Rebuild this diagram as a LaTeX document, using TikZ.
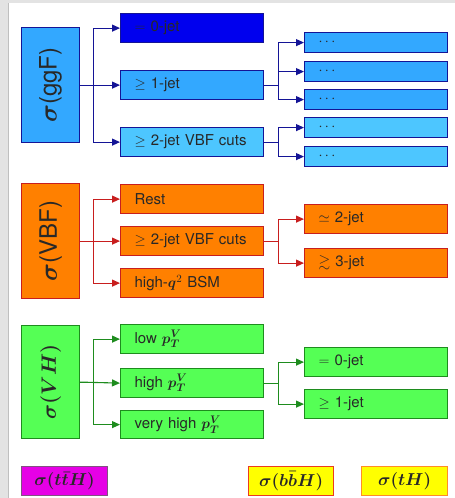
\documentclass[tikz,border=0pt]{standalone}
\usepackage{amsmath,amssymb}
\usepackage[no-math]{fontspec}
\setmainfont{TeX Gyre Heros}
\usetikzlibrary{arrows.meta}
\definecolor{ggf}{RGB}{51,168,255}
\definecolor{blueA}{RGB}{0,0,238}
\definecolor{vbfc}{RGB}{77,198,255}
\definecolor{navy}{RGB}{20,20,150}
\definecolor{orng}{RGB}{255,128,0}
\definecolor{redB}{RGB}{200,30,30}
\definecolor{grn}{RGB}{85,255,85}
\definecolor{grnB}{RGB}{30,140,30}
\definecolor{mag}{RGB}{230,0,230}
\definecolor{magB}{RGB}{130,80,130}
\definecolor{yel}{RGB}{255,255,0}
\definecolor{bbhB}{RGB}{235,60,30}
\definecolor{thB}{RGB}{255,140,40}
\definecolor{txt}{RGB}{40,40,40}
\begin{document}
\begin{tikzpicture}[x=1pt,y=-1pt,
  every node/.style={font=\fontsize{15}{18}\selectfont, text=txt},
  base/.style={draw, line width=1.2pt, anchor=north west, inner sep=0pt, minimum height=29pt},
  kid/.style={base, minimum width=143pt, text width=115pt, align=left, inner xsep=14pt},
  gkid/.style={kid, minimum height=20pt},
  parbox/.style={base, minimum width=58pt},
  bot/.style={base, font=\fontsize{19}{22}\selectfont\boldmath},
  arr/.style={line width=1.1pt, -{Triangle[length=8pt,width=7pt]}},
  arrB/.style={arr, draw=navy},
  arrR/.style={arr, draw=redB},
  arrG/.style={arr, draw=grnB},
  bluebox/.style={fill=ggf, draw=navy},
  orbox/.style={fill=orng, draw=redB},
  grbox/.style={fill=grn, draw=grnB}]
\useasboundingbox (0,0) rectangle (455,498);
\fill[gray!22] (0,0) rectangle (455,498);
\fill[white] (8,3) rectangle (455,498);
\draw[gray!50, line width=0.8pt] (8,3) -- (8,498);

% ggF
\node[parbox, bluebox, minimum height=115pt] (ggF) at (21,27)
  {\rotatebox{90}{\fontsize{24}{28}\selectfont{\boldmath$\sigma$}(ggF)}};
\node[kid, fill=blueA, draw=navy] (g0) at (120,13) {$=$ 0-jet};
\node[kid, bluebox] (g1) at (120,70) {$\geq$ 1-jet};
\node[kid, fill=vbfc, draw=navy] (g2) at (120,127) {\mbox{$\geq$ 2-jet VBF cuts}};
\node[gkid, bluebox] (h1) at (304,32) {$\cdots$};
\node[gkid, bluebox] (h2) at (304,61) {$\cdots$};
\node[gkid, bluebox] (h3) at (304,89) {$\cdots$};
\node[gkid, fill=vbfc, draw=navy] (h4) at (304,117) {$\cdots$};
\node[gkid, fill=vbfc, draw=navy] (h5) at (304,146) {$\cdots$};
\draw[arrB] (ggF.east) -- ++(13,0) |- (g0.west);
\draw[arrB] (ggF.east) -- (g1.west);
\draw[arrB] (ggF.east) -- ++(13,0) |- (g2.west);
\draw[arrB] (g1.east) -- ++(14,0) |- (h1.west);
\draw[arrB] (g1.east) -- ++(14,0) |- (h2.west);
\draw[arrB] (g1.east) -- ++(14,0) |- (h3.west);
\draw[arrB] (g2.east) -- ++(14,0) |- (h4.west);
\draw[arrB] (g2.east) -- ++(14,0) |- (h5.west);

% VBF
\node[parbox, orbox, minimum height=115pt] (VBF) at (21,183)
  {\rotatebox{90}{\fontsize{24}{28}\selectfont{\boldmath$\sigma$}(VBF)}};
\node[kid, orbox] (v1) at (120,184) {Rest};
\node[kid, orbox] (v2) at (120,226) {\mbox{$\geq$ 2-jet VBF cuts}};
\node[kid, orbox] (v3) at (120,268) {high-{\boldmath$q$}$^2$ BSM};
\node[kid, orbox] (w1) at (304,204) {$\simeq$ 2-jet};
\node[kid, orbox] (w2) at (304,248) {$\gtrsim$ 3-jet};
\draw[arrR] (VBF.east) -- ++(13,0) |- (v1.west);
\draw[arrR] (VBF.east) -- (v2.west);
\draw[arrR] (VBF.east) -- ++(13,0) |- (v3.west);
\draw[arrR] (v2.east) -- ++(14,0) |- (w1.west);
\draw[arrR] (v2.east) -- ++(14,0) |- (w2.west);

% VH
\node[parbox, grbox, minimum height=113pt] (VH) at (21,325)
  {\rotatebox{90}{\fontsize{22}{26}\selectfont\boldmath$\sigma(VH)$}};
\node[kid, grbox] (x1) at (120,324) {low {\boldmath$p_T^V$}};
\node[kid, grbox] (x2) at (120,368) {high {\boldmath$p_T^V$}};
\node[kid, grbox, minimum height=28pt] (x3) at (120,410) {very high {\boldmath$p_T^V$}};
\node[kid, grbox] (y1) at (304,347) {$=$ 0-jet};
\node[kid, grbox] (y2) at (304,389) {$\geq$ 1-jet};
\draw[arrG] (VH.east) -- ++(13,0) |- (x1.west);
\draw[arrG] (VH.east) -- (x2.west);
\draw[arrG] (VH.east) -- ++(13,0) |- (x3.west);
\draw[arrG] (x2.east) -- ++(14,0) |- (y1.west);
\draw[arrG] (x2.east) -- ++(14,0) |- (y2.west);

% bottom
\node[bot, fill=mag, draw=magB, minimum width=86pt] (ttH) at (21,466) {$\sigma(t\bar{t}H)$};
\node[bot, fill=yel, draw=bbhB, minimum width=85pt] (bbH) at (248,466) {$\sigma(b\bar{b}H)$};
\node[bot, fill=yel, draw=thB, minimum width=86pt] (tH) at (361,466) {$\sigma(tH)$};
\end{tikzpicture}
\end{document}
